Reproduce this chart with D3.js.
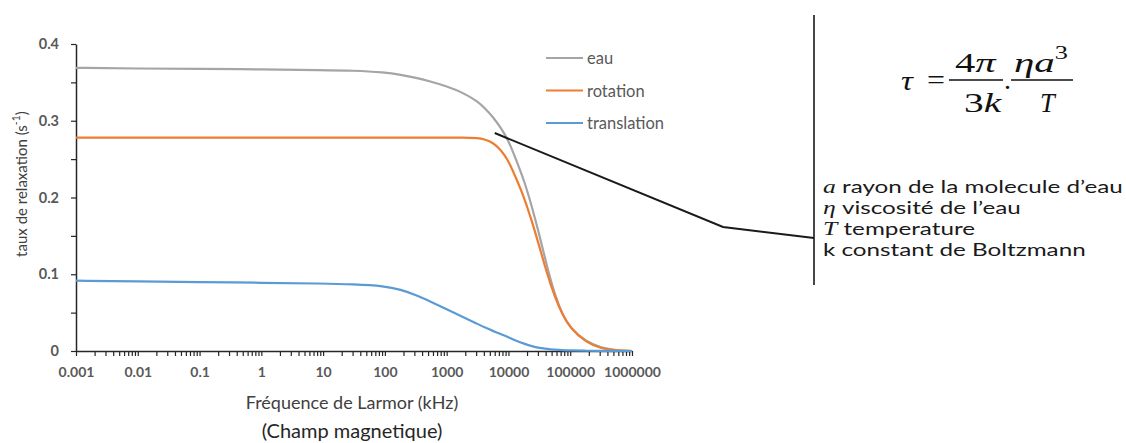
<!DOCTYPE html>
<html>
<head>
<meta charset="utf-8">
<script src="https://cdn.jsdelivr.net/npm/d3@7"></script>
<style>
  body { margin: 0; background: #fff; }
  svg { display: block; }
</style>
</head>
<body>
<svg id="chart" width="1126" height="443"></svg>
<script>
// Larmor frequency samples (kHz) and relaxation rates (s^-1)
const freqKHz = [0.001, 0.01, 0.1, 1, 10, 30, 100, 180, 320, 560, 1000, 1800, 3200, 4200, 5600, 7500,
                 10000, 13000, 18000, 24000, 32000, 42000, 56000, 75000, 100000, 180000, 320000, 560000, 1000000];
const eau = [0.369, 0.368, 0.3675, 0.367, 0.366, 0.3655, 0.363, 0.360, 0.356, 0.351, 0.345, 0.337, 0.325, 0.316, 0.305, 0.291,
             0.2745, 0.251, 0.222, 0.188, 0.150, 0.110, 0.074, 0.047, 0.030, 0.012, 0.004, 0.001, 0.000];
const rotation = [0.278, 0.278, 0.278, 0.278, 0.278, 0.278, 0.278, 0.278, 0.278, 0.278, 0.278, 0.278, 0.2775, 0.2755, 0.2715, 0.2625,
                  0.248, 0.227, 0.200, 0.169, 0.135, 0.101, 0.071, 0.047, 0.030, 0.011, 0.003, 0.0005, 0.000];
const translation = [0.0916, 0.0907, 0.0898, 0.0889, 0.0879, 0.0870, 0.0847, 0.0800, 0.0730, 0.0640, 0.0545, 0.0445, 0.0350, 0.0305, 0.0262, 0.0220,
                     0.0180, 0.0135, 0.0095, 0.0062, 0.0040, 0.0026, 0.0017, 0.0011, 0.0008, 0.0003, 0.0001, 0.0000, 0.0000];

const seriesNames = ["eau", "rotation", "translation"];
const seriesValues = [eau, rotation, translation];
const seriesColors = ["#A5A5A5", "#ED7D31", "#5B9BD5"];

const xDecades = [0.001, 0.01, 0.1, 1, 10, 100, 1000, 10000, 100000, 1000000];
const xTickLabels = ["0.001", "0.01", "0.1", "1", "10", "100", "1000", "10000", "100000", "1000000"];
const yTicks = [0, 0.05, 0.1, 0.15, 0.2, 0.25, 0.3, 0.35, 0.4];
const yTickLabels = ["0", "", "0.1", "", "0.2", "", "0.3", "", "0.4"];

// callout anchor on the curves (kHz, s^-1)
const calloutAnchor = [6000, 0.284];

const svg = d3.select("#chart");
const sansFont = "Lato, 'Open Sans', sans-serif";
const mathFont = "'Liberation Serif', 'DejaVu Serif', serif";

// scale a start-anchored text (placed at x=0) so its ink spans [left, left+width]
function fitText(t, left, width) {
  const b = t.node().getBBox();
  const sx = width / b.width;
  t.attr("transform", `translate(${left},0) scale(${sx},1) translate(${-b.x},0)`);
  return sx;
}

const x = d3.scaleLog().domain([0.001, 1000000]).range([76, 632]);
const y = d3.scaleLinear().domain([0, 0.4]).range([351, 44]);

// minor log ticks 1..9 per decade
const xAllTicks = [];
xDecades.forEach((d, i) => {
  if (i === xDecades.length - 1) { xAllTicks.push(d); return; }
  for (let k = 1; k <= 9; k++) xAllTicks.push(d * k);
});
const labelFor = v => {
  const i = xDecades.findIndex(d => Math.abs(d - v) / d < 1e-9);
  return i >= 0 ? xTickLabels[i] : "";
};

// X axis
const gx = svg.append("g")
  .attr("transform", `translate(0,${y(0)})`)
  .call(d3.axisBottom(x).tickValues(xAllTicks).tickFormat(labelFor).tickSizeInner(5).tickSizeOuter(0).tickPadding(11));
gx.select(".domain").attr("stroke", "#262626").attr("stroke-width", 1.5);
gx.selectAll(".tick line").attr("stroke", "#262626").attr("stroke-width", 1.2);
gx.selectAll(".tick text")
  .attr("font-family", sansFont).attr("font-size", 14).attr("font-weight", 700).attr("fill", "#595959");

// Y axis
const gy = svg.append("g")
  .attr("transform", `translate(${x(0.001)},0)`)
  .call(d3.axisLeft(y).tickValues(yTicks).tickFormat((d, i) => yTickLabels[i]).tickSizeInner(5).tickSizeOuter(0).tickPadding(12));
gy.select(".domain").attr("stroke", "#262626").attr("stroke-width", 1.5);
gy.selectAll(".tick line").attr("stroke", "#262626").attr("stroke-width", 1.2);
gy.selectAll(".tick text")
  .attr("font-family", sansFont).attr("font-size", 14.5).attr("font-weight", 700).attr("fill", "#595959");

// Axis titles
const yTitle = svg.append("text")
  .attr("transform", "translate(21,184) rotate(-90)")
  .attr("text-anchor", "middle")
  .attr("dominant-baseline", "central")
  .attr("font-family", sansFont).attr("font-size", 15).attr("fill", "#404040");
yTitle.append("tspan").text("taux de relaxation (s");
yTitle.append("tspan").attr("dy", -5).attr("font-size", 10.5).text("-1");
yTitle.append("tspan").attr("dy", 5).text(")");

svg.append("text")
  .attr("x", 352).attr("y", 409)
  .attr("text-anchor", "middle")
  .attr("font-family", sansFont).attr("font-size", 18).attr("fill", "#404040")
  .text("Fréquence de Larmor (kHz)");
svg.append("text")
  .attr("x", 352).attr("y", 438)
  .attr("text-anchor", "middle")
  .attr("font-family", sansFont).attr("font-size", 20).attr("fill", "#262626")
  .text("(Champ magnetique)");

// Series lines
const line = d3.line()
  .x(d => x(d[0]))
  .y(d => y(d[1]))
  .curve(d3.curveBasis);

seriesValues.forEach((vals, i) => {
  svg.append("path")
    .datum(freqKHz.map((f, j) => [f, vals[j]]))
    .attr("fill", "none")
    .attr("stroke", seriesColors[i])
    .attr("stroke-width", 2.2)
    .attr("stroke-linejoin", "round")
    .attr("d", line);
});

// Legend
const legend = svg.append("g").attr("transform", "translate(546,58)");
seriesNames.forEach((name, i) => {
  const row = legend.append("g").attr("transform", `translate(0,${i * 32.5})`);
  row.append("line").attr("x1", 0).attr("x2", 37).attr("y1", 0).attr("y2", 0)
    .attr("stroke", seriesColors[i]).attr("stroke-width", 2.2);
  row.append("text").attr("x", 41).attr("y", 0)
    .attr("dominant-baseline", "central")
    .attr("font-family", sansFont).attr("font-size", 16.5).attr("fill", "#595959")
    .text(name);
});

// Callout line to the formula panel
const calloutStart = [x(calloutAnchor[0]), y(calloutAnchor[1])];
svg.append("path")
  .attr("d", d3.line()([calloutStart, [723, 227], [814, 238]]))
  .attr("fill", "none").attr("stroke", "#1a1a1a").attr("stroke-width", 2);

svg.append("line")
  .attr("x1", 814).attr("x2", 814).attr("y1", 15).attr("y2", 285)
  .attr("stroke", "#1a1a1a").attr("stroke-width", 1.6);

// Formula  tau = 4pi/3k . eta a^3 / T
const fg = svg.append("g").attr("font-family", mathFont).attr("font-size", 28).attr("fill", "#111");
function mathText(baseline) {
  return fg.append("g").append("text").attr("x", 0).attr("y", baseline);
}
const tau = mathText(90); tau.append("tspan").attr("font-style", "italic").text("τ");
fitText(tau, 901, 13);
const eq = mathText(89); eq.text("=");
fitText(eq, 927, 18);

const num1 = mathText(72);
num1.append("tspan").text("4");
num1.append("tspan").attr("font-style", "italic").text("π");
fitText(num1, 955, 42);
const den1 = mathText(112);
den1.append("tspan").text("3");
den1.append("tspan").attr("font-style", "italic").text("k");
fitText(den1, 964, 38);
fg.append("line").attr("x1", 949).attr("x2", 1003).attr("y1", 80).attr("y2", 80)
  .attr("stroke", "#111").attr("stroke-width", 1.3);

fg.append("text").attr("x", 1004).attr("y", 89).text(".");

const num2 = mathText(72);
num2.append("tspan").attr("font-style", "italic").text("ηa");
num2.append("tspan").attr("dy", -13).attr("font-size", 18).text("3");
fitText(num2, 1014, 54);
const den2 = mathText(112);
den2.append("tspan").attr("font-style", "italic").text("T");
fitText(den2, 1040, 17);
fg.append("line").attr("x1", 1011).attr("x2", 1073).attr("y1", 80).attr("y2", 80)
  .attr("stroke", "#111").attr("stroke-width", 1.3);

// Symbol definitions
const defs = [
  ["a", " rayon de la molecule d’eau"],
  ["η", " viscosité de l’eau"],
  ["T", " temperature"],
  ["", "k constant de Boltzmann"]
];
const defsG = svg.append("g");
let defStretch = 1;
defs.forEach((d, i) => {
  const t = defsG.append("g").append("text")
    .attr("x", 0).attr("y", 193 + i * 21)
    .attr("font-family", sansFont).attr("font-size", 17).attr("fill", "#1a1a1a");
  if (d[0]) t.append("tspan").attr("font-family", mathFont).attr("font-style", "italic").attr("font-size", 18).text(d[0]);
  t.append("tspan").text(d[1]);
  if (i === 0) {
    defStretch = fitText(t, 823, 300);
  } else {
    const b = t.node().getBBox();
    t.attr("transform", `translate(823,0) scale(${defStretch},1) translate(${-b.x},0)`);
  }
});
</script>
</body>
</html>
